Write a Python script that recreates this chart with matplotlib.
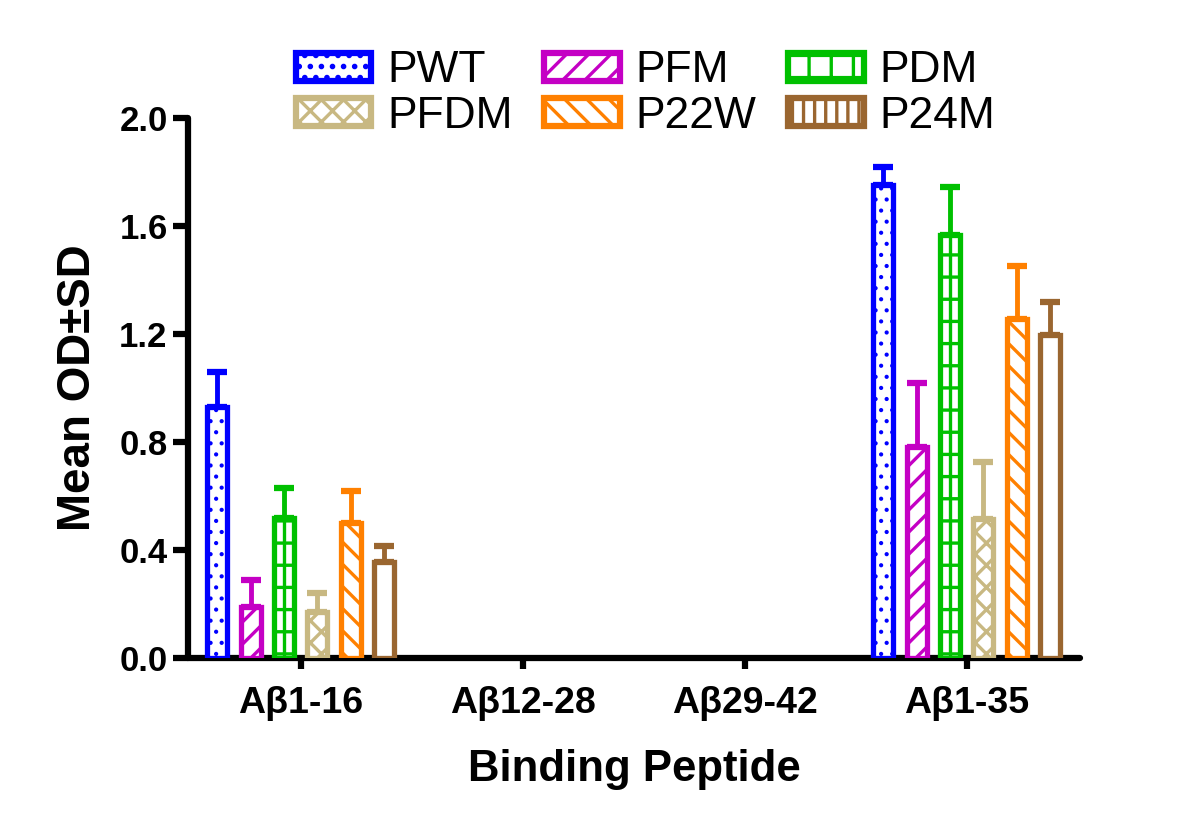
import numpy as np
import matplotlib
matplotlib.use("Agg")
import matplotlib.pyplot as plt
from matplotlib.patches import Patch

# figure is drawn at a higher dpi so the hatch spacing gets coarser,
# every size below is given in "points at 100 dpi" and scaled by S
DPI = 1200 / 9
S = 100 / DPI

plt.rcParams['font.family'] = ['Liberation Sans', 'DejaVu Sans']
plt.rcParams['hatch.linewidth'] = 2.4 * S

# data
peptides = ['A\u03b21-16', 'A\u03b212-28', 'A\u03b229-42', 'A\u03b21-35']
series = ['PWT', 'PFM', 'PDM', 'PFDM', 'P22W', 'P24M']
means = {
    'PWT':  [0.93, 0.0, 0.0, 1.75],
    'PFM':  [0.19, 0.0, 0.0, 0.78],
    'PDM':  [0.52, 0.0, 0.0, 1.565],
    'PFDM': [0.17, 0.0, 0.0, 0.515],
    'P22W': [0.50, 0.0, 0.0, 1.255],
    'P24M': [0.355, 0.0, 0.0, 1.195],
}
sds = {
    'PWT':  [0.13, 0.0, 0.0, 0.07],
    'PFM':  [0.10, 0.0, 0.0, 0.24],
    'PDM':  [0.11, 0.0, 0.0, 0.18],
    'PFDM': [0.07, 0.0, 0.0, 0.21],
    'P22W': [0.12, 0.0, 0.0, 0.195],
    'P24M': [0.06, 0.0, 0.0, 0.125],
}
colors = {'PWT': '#0000ff', 'PFM': '#c400c4', 'PDM': '#00c000',
          'PFDM': '#c8b882', 'P22W': '#ff8000', 'P24M': '#9a6630'}
bar_hatch = {'PWT': '..', 'PFM': '//', 'PDM': '-', 'PFDM': 'xx',
             'P22W': '\\\\', 'P24M': None}
leg_hatch = {'PWT': '..', 'PFM': '//', 'PDM': '+', 'PFDM': 'xx',
             'P22W': '\\\\', 'P24M': '||'}
# the dots are finer than the stripes
hatch_lw = {'PWT': 1.4, 'PFM': 2.4, 'PDM': 2.4, 'PFDM': 2.4,
            'P22W': 2.4, 'P24M': 2.4}

fig = plt.figure(figsize=(9, 829 / DPI), dpi=DPI)
ax = fig.add_axes([0.157, 0.2063, 0.743, 0.6514])

x = np.arange(len(peptides))
step = 0.15
width = 0.09
for i, s in enumerate(series):
    pos = x + (i - 2.5) * step
    vals = np.array(means[s])
    err = np.array(sds[s])
    keep = vals > 0
    with plt.rc_context({'hatch.linewidth': hatch_lw[s] * S}):
        ax.bar(pos[keep], vals[keep], width=width, color='white',
               edgecolor=colors[s], linewidth=3.8 * S,
               hatch=bar_hatch[s], zorder=3)
    if s == 'PDM':
        # the grid pattern shows one vertical line down the middle
        ax.vlines(pos[keep], 0, vals[keep], colors=colors[s],
                  linewidth=2.4 * S, zorder=4)
    ax.errorbar(pos[keep], vals[keep],
                yerr=[np.zeros(keep.sum()), err[keep]],
                fmt='none', ecolor=colors[s], elinewidth=3.5 * S,
                capsize=7 * S, capthick=4.5 * S, zorder=2)

ax.set_xlim(-0.505, 3.51)
ax.set_ylim(0, 2.0)
ax.set_yticks([0.0, 0.4, 0.8, 1.2, 1.6, 2.0])
ax.set_yticklabels(['0.0', '0.4', '0.8', '1.2', '1.6', '2.0'])
ax.set_xticks(x)
ax.set_xticklabels(peptides)
for sp in ['top', 'right']:
    ax.spines[sp].set_visible(False)
for sp in ['left', 'bottom']:
    ax.spines[sp].set_linewidth(4.5 * S)
    ax.spines[sp].set_capstyle('round')
ax.tick_params(axis='y', width=4.5 * S, length=11 * S, labelsize=25 * S,
               pad=4 * S)
ax.tick_params(axis='x', width=4.5 * S, length=8 * S, labelsize=27 * S,
               pad=12 * S)
for lab in ax.get_xticklabels() + ax.get_yticklabels():
    lab.set_fontweight('bold')
ax.set_xlabel('Binding Peptide', fontsize=31.5 * S, fontweight='bold',
              labelpad=20 * S)
ax.set_ylabel('Mean OD\u00b1SD', fontsize=33 * S, fontweight='bold',
              labelpad=14 * S)

order = ['PWT', 'PFDM', 'PFM', 'P22W', 'PDM', 'P24M']
handles = []
for s in order:
    with plt.rc_context({'hatch.linewidth': hatch_lw[s] * S}):
        handles.append(Patch(facecolor='white', edgecolor=colors[s],
                             linewidth=4.5 * S, hatch=leg_hatch[s], label=s))
fig.legend(handles=handles, ncol=3, loc='center',
           bbox_to_anchor=(0.538, 0.887), frameon=False, fontsize=32 * S,
           handlelength=1.7, handleheight=0.6, handletextpad=0.35,
           columnspacing=0.72, labelspacing=0.1, borderpad=0.1)

fig.savefig('out.png', dpi=DPI)
